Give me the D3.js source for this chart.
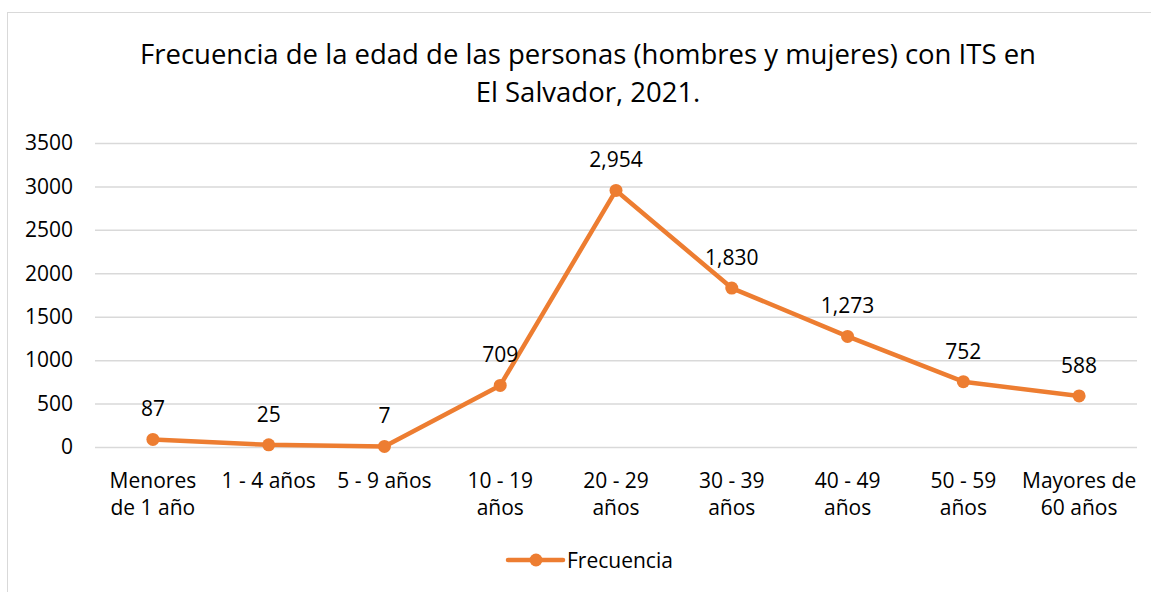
<!DOCTYPE html>
<html>
<head>
<meta charset="utf-8">
<script src="https://cdn.jsdelivr.net/npm/d3@7"></script>
<style>
  body { margin: 0; background: #fff; }
  svg text { font-family: "Open Sans", "Noto Sans", sans-serif; fill: #000; }
</style>
</head>
<body>
<svg id="chart" width="1151" height="592"></svg>
<script>
const categories = [["Menores", "de 1 año"], ["1 - 4 años"], ["5 - 9 años"], ["10 - 19", "años"], ["20 - 29", "años"], ["30 - 39", "años"], ["40 - 49", "años"], ["50 - 59", "años"], ["Mayores de", "60 años"]];
const frecuencia = [87, 25, 7, 709, 2954, 1830, 1273, 752, 588];
const yTicks = [0, 500, 1000, 1500, 2000, 2500, 3000, 3500];
const titleLines = ["Frecuencia de la edad de las personas (hombres y mujeres) con ITS en", "El Salvador, 2021."];
const seriesName = "Frecuencia";

const orange = "#ed7d31";
const svg = d3.select("#chart");

// chart border
svg.append("rect")
    .attr("x", 7.5).attr("y", 12.5)
    .attr("width", 1160).attr("height", 600)
    .attr("fill", "none").attr("stroke", "#d9d9d9");

const plotL = 95, plotR = 1137, plotT = 143, plotB = 447;

const x = d3.scaleBand().domain(d3.range(categories.length)).range([plotL, plotR]);
const y = d3.scaleLinear().domain([0, 3500]).range([plotB, plotT]);

// title
svg.append("g").selectAll("text")
    .data(titleLines)
    .enter().append("text")
    .attr("x", 588)
    .attr("y", (d, i) => 64 + i * 38)
    .attr("text-anchor", "middle")
    .attr("font-size", 27.5)
    .text(d => d);

// grid + y labels
const yAxis = d3.axisLeft(y).tickValues(yTicks).tickSize(-(plotR - plotL)).tickPadding(22).tickFormat(d3.format("d"));
const gy = svg.append("g").attr("transform", `translate(${plotL},0)`).call(yAxis);
gy.select(".domain").remove();
gy.selectAll(".tick line").attr("stroke", "#d9d9d9").attr("stroke-width", 1.5);
gy.selectAll(".tick text").attr("font-size", 21).attr("fill", "#000");

// x labels
const xl = svg.append("g").selectAll("text")
    .data(categories)
    .enter().append("text")
    .attr("text-anchor", "middle")
    .attr("font-size", 21)
    .attr("transform", (d, i) => `translate(${x(i) + x.bandwidth() / 2},0)`);
xl.selectAll("tspan")
    .data(d => d)
    .enter().append("tspan")
    .attr("x", 0)
    .attr("y", (d, i) => 488 + i * 27)
    .text(d => d);

// line
const line = d3.line()
    .x((d, i) => x(i) + x.bandwidth() / 2)
    .y(d => y(d));

svg.append("path")
    .datum(frecuencia)
    .attr("d", line)
    .attr("fill", "none")
    .attr("stroke", orange)
    .attr("stroke-width", 4.5)
    .attr("stroke-linejoin", "round");

svg.append("g").selectAll("circle")
    .data(frecuencia)
    .enter().append("circle")
    .attr("cx", (d, i) => x(i) + x.bandwidth() / 2)
    .attr("cy", d => y(d))
    .attr("r", 6.5)
    .attr("fill", orange);

// data labels
svg.append("g").selectAll("text")
    .data(frecuencia)
    .enter().append("text")
    .attr("x", (d, i) => x(i) + x.bandwidth() / 2)
    .attr("y", d => y(d) - 23)
    .attr("text-anchor", "middle")
    .attr("font-size", 21)
    .text(d => d3.format(",")(d));

// legend
const lg = svg.append("g").attr("transform", "translate(508,560)");
lg.append("line").attr("x1", 0).attr("x2", 55).attr("y1", 0).attr("y2", 0)
    .attr("stroke", orange).attr("stroke-width", 4.5).attr("stroke-linecap", "round");
lg.append("circle").attr("cx", 28).attr("cy", 0).attr("r", 6.5).attr("fill", orange);
lg.append("text").attr("x", 59).attr("y", 8).attr("font-size", 21).text(seriesName);
</script>
</body>
</html>
